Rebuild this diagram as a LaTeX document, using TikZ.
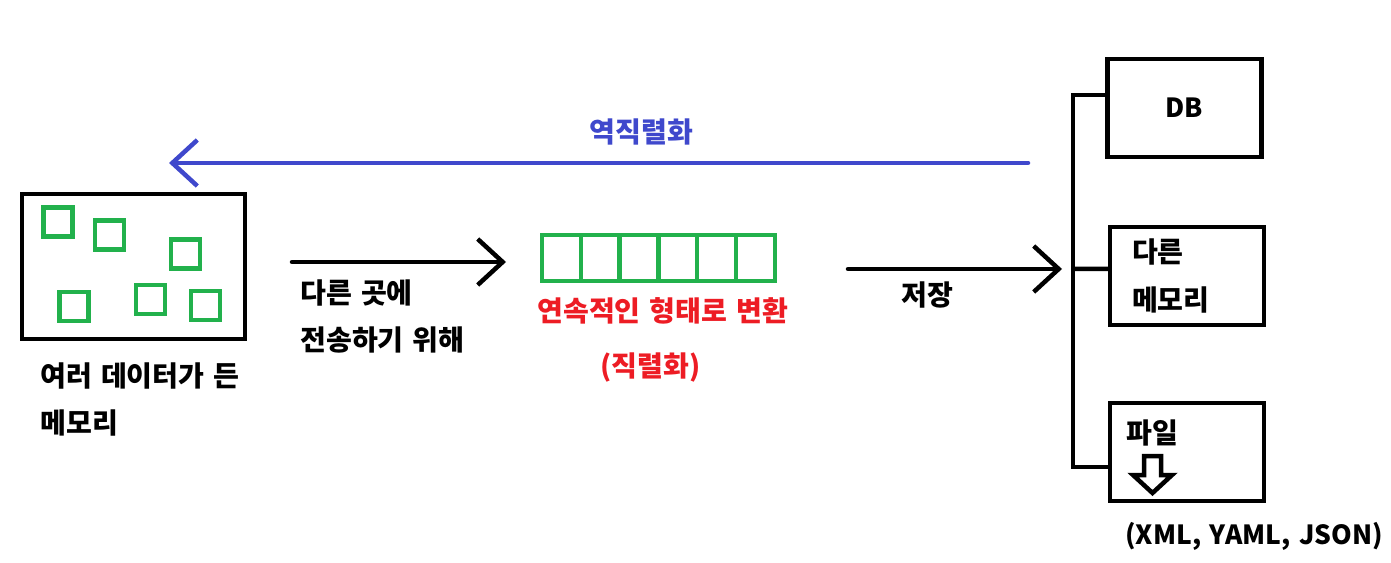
\documentclass[tikz,border=0pt]{standalone}
\usepackage{fontspec}
\setmainfont{Noto Sans CJK KR}[WordSpace=1.4]
\usepackage{xcolor}
\usepackage{tikz}
\usetikzlibrary{arrows.meta, positioning}

\definecolor{paintgreen}{HTML}{22B14C}
\definecolor{paintblue}{HTML}{3F48CC}
\definecolor{paintred}{HTML}{ED1C24}

\begin{document}
\begin{tikzpicture}[
        x=0.02cm, y=-0.02cm,
        txt/.style={inner sep=0pt, align=left, font=\fontsize{16}{27}\selectfont\bfseries},
        membox/.style={rectangle, draw=black, line width=0.09cm, minimum width=4.46cm, minimum height=2.9cm, outer sep=0pt},
        item/.style={rectangle, draw=paintgreen, line width=0.09cm, minimum size=0.58cm, inner sep=0pt},
        slot/.style={rectangle, draw=paintgreen, line width=0.09cm, minimum width=0.776cm, minimum height=0.92cm, inner sep=0pt, outer sep=0pt},
        store/.style={rectangle, draw=black, line width=0.09cm, minimum width=3.08cm, minimum height=1.96cm, outer sep=0pt, inner xsep=0.44cm, text width=2.2cm, align=left, font=\fontsize{16}{27}\selectfont\bfseries},
        arrow/.style={-{Straight Barb[length=0.5cm, width=0.92cm]}, line width=0.09cm, line cap=round, draw=black},
        wire/.style={draw=black, line width=0.09cm}
        ]
        \useasboundingbox (0,0) rectangle (1391,563);

        % Memory with scattered data
        \node (mem) [membox] at (133.5,266.5) {};
        \foreach \x/\y [count=\n] in {58/222, 109.5/235, 185.5/254, 74/306.5, 150.5/299.5, 205.5/305.5}
            \node (item\n) [item] at (\x,\y) {};
        \node (memtxt) [txt, below right=0.46cm and 0.36cm of mem.south west] {여러 데이터가 든\\메모리};

        % Sending
        \coordinate (send-s) at (292,262);
        \coordinate (send-e) at (506,262);
        \draw [arrow] (send-s) -- (send-e);
        \node (sendtxt) [txt, below right=0.34cm and 0.16cm of send-s] {다른 곳에\\전송하기 위해};

        % Serialized row
        \node (s1) [slot] at (561.4,258) {};
        \foreach \i [remember=\i as \prev (initially 1)] in {2,...,6}
            \node (s\i) [slot, right=0pt of s\prev] {};
        \node (serial) [txt, text=paintred, below right=0.32cm and -0.1cm of s1.south west] {연속적인 형태로 변환};
        \node (serial2) [txt, text=paintred, below right=1.42cm and 1.16cm of s1.south west] {(직렬화)};

        % Deserialization
        \coordinate (back-s) at (1028,163);
        \coordinate (back-e) at (169,163);
        \draw [arrow, draw=paintblue] (back-s) -- node[txt, text=paintblue, pos=0.45, yshift=0.62cm] {역직렬화} (back-e);

        % Storage targets
        \node (db) [store, align=center, font=\fontsize{15}{27}\selectfont\bfseries] at (1184.5,108) {DB};
        \node (other) [store] at (1187,276) {다른\\메모리};
        \node (file) [store] at (1187,452) {};
        \node (filetxt) [txt, below right=0.32cm and 0.32cm of file.north west] {파일};
        \coordinate (icon) at (1152.5,456);
        \draw [wire, shift={(icon)}] (-8.5,0) -- (8.5,0) -- (8.5,19) -- (19.5,19) -- (0,37) -- (-19.5,19) -- (-8.5,19) -- cycle;
        \node (fmt) [txt, font=\fontsize{15}{27}\selectfont\bfseries, below right=0.42cm and 0.3cm of file.south west] {(XML, YAML, JSON)};

        \coordinate (bus) at (1073,269);
        \draw [wire] ([yshift=0.26cm]db.west) -| (bus) |- ([yshift=-0.3cm]file.west);
        \draw [wire] (bus) -- ([yshift=0.14cm]other.west);

        \coordinate (store-s) at (848,269);
        \draw [arrow] (store-s) -- node[txt, pos=0.37, yshift=-0.52cm] {저장} ([xshift=-0.22cm]bus);

    \end{tikzpicture}
\end{document}
